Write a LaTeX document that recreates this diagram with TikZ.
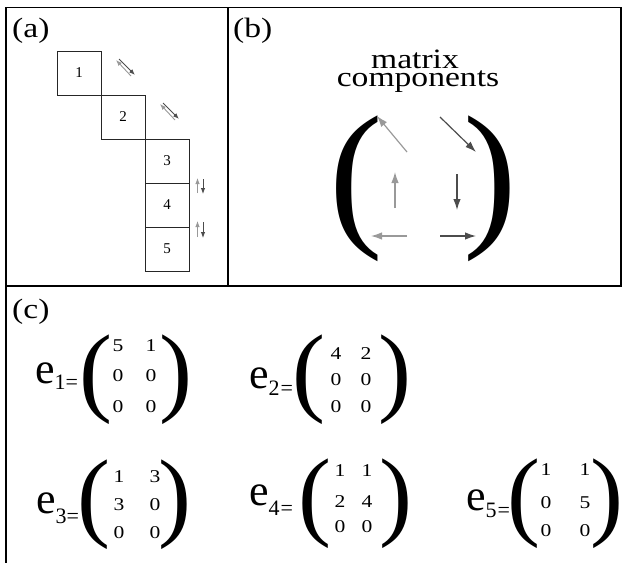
\documentclass[tikz,border=0pt]{standalone}
\usepackage{fontspec}
\setmainfont{Liberation Serif}
\usetikzlibrary{arrows.meta,positioning}

\newcommand\subf{\fontsize{22}{22}\selectfont}
\newcommand\elab[2]{e\lower#2pt\hbox{\subf #1=}}

\begin{document}
\begin{tikzpicture}[x=1pt,y=-1pt,
    panel/.style={font=\fontsize{28}{28}\selectfont, xscale=1.2, inner sep=0pt, anchor=base west},
    title/.style={font=\fontsize{28}{28}\selectfont, xscale=1.2, inner sep=0pt, anchor=base},
    cell/.style={draw=black!85, line width=0.8pt, minimum size=44pt, inner sep=0pt, outer sep=0pt,
                 font=\fontsize{15}{15}\selectfont},
    lite/.style={black!40, line width=0.9pt, -{Latex[length=6pt,width=4.5pt]}},
    dark/.style={black!70, line width=0.9pt, -{Latex[length=6pt,width=4.5pt]}},
    litebig/.style={black!40, line width=1.2pt, -{Latex[length=11pt,width=7.5pt]}},
    darkbig/.style={black!70, line width=1.2pt, -{Latex[length=11pt,width=7.5pt]}},
    bigparen/.style={font=\fontsize{161}{161}\selectfont, inner sep=0pt},
    paren/.style={font=\fontsize{99}{99}\selectfont, inner sep=0pt},
    entry/.style={font=\fontsize{18}{18}\selectfont, xscale=1.2, inner sep=0pt},
    elabel/.style={font=\fontsize{44}{44}\selectfont, inner sep=0pt, anchor=base west}]
    \useasboundingbox (0,0) rectangle (622,563);
    % frames of the three panels
    \draw[line width=1.2pt] (6,7.5) rectangle (228,286);
    \draw[line width=1.2pt] (228,7.5) rectangle (621,286);
    \draw[line width=1.2pt] (6,286) -- (6,563);
    \node[panel] (la) at (12,37) {(a)};
    \node[panel] (lb) at (233,37) {(b)};
    \node[panel] (lc) at (12,318) {(c)};

    % (a) staircase of cells
    \node[cell] (c1) at (79,73) {1};
    \node[cell, below right=0pt and 0pt of c1] (c2) {2};
    \node[cell, below right=0pt and 0pt of c2] (c3) {3};
    \node[cell, below=0pt of c3] (c4) {4};
    \node[cell, below=0pt of c4] (c5) {5};
    % arrow pairs between neighbouring cells
    \draw[lite] (131,76) -- (116,60);
    \draw[dark] (119,59) -- (135,75);
    \draw[lite] (175,120) -- (160,104);
    \draw[dark] (163,103) -- (179,119);
    \draw[lite] (197.5,193) -- (197.5,178);
    \draw[dark] (203,179) -- (203,194);
    \draw[lite] (197.5,237) -- (197.5,221);
    \draw[dark] (203,222) -- (203,238);

    % (b) matrix components
    \node[title] (t1) at (415,68) {matrix};
    \node[title] (t2) at (418,86) {components};
    \node[bigparen] (pl) at (356.5,188.5) {(};
    \node[bigparen] (pr) at (490.5,188.5) {)};
    \draw[litebig] (407,152) -- (377,116);
    \draw[darkbig] (440,117) -- (476,152);
    \draw[litebig] (395,208) -- (395,172);
    \draw[darkbig] (457,174) -- (457,210);
    \draw[litebig] (407,236) -- (371,236);
    \draw[darkbig] (440,236) -- (476,236);

    % (c) e1
    \node[elabel] (e1) at (35,383) {\elab{1}{6}};
    \node[paren] (e1l) at (95.5,380) {(};
    \node[paren] (e1r) at (176,380) {)};
    \node[entry] (e1-11) at (118,346) {5}; \node[entry] (e1-12) at (151,346) {1};
    \node[entry] (e1-21) at (118,376) {0}; \node[entry] (e1-22) at (151,376) {0};
    \node[entry] (e1-31) at (118,407) {0}; \node[entry] (e1-32) at (151,407) {0};
    % e2
    \node[elabel] (e2) at (249,388) {\elab{2\kern1pt}{7}};
    \node[paren] (e2l) at (309,379.5) {(};
    \node[paren] (e2r) at (395,379.5) {)};
    \node[entry] (e2-11) at (336,354) {4}; \node[entry] (e2-12) at (366,354) {2};
    \node[entry] (e2-21) at (336,380) {0}; \node[entry] (e2-22) at (366,380) {0};
    \node[entry] (e2-31) at (336,407) {0}; \node[entry] (e2-32) at (366,407) {0};
    % e3
    \node[elabel] (e3) at (36,513) {\elab{3}{10}};
    \node[paren] (e3l) at (93.5,505) {(};
    \node[paren] (e3r) at (175,505) {)};
    \node[entry] (e3-11) at (119,477) {1}; \node[entry] (e3-12) at (155,477) {3};
    \node[entry] (e3-21) at (119,505) {3}; \node[entry] (e3-22) at (155,505) {0};
    \node[entry] (e3-31) at (119,533) {0}; \node[entry] (e3-32) at (155,533) {0};
    % e4
    \node[elabel] (e4) at (249,505) {\elab{4\kern1pt}{10}};
    \node[paren] (e4l) at (315,504) {(};
    \node[paren] (e4r) at (395.5,504) {)};
    \node[entry] (e4-11) at (340,471) {1}; \node[entry] (e4-12) at (367,471) {1};
    \node[entry] (e4-21) at (340,502) {2}; \node[entry] (e4-22) at (367,502) {4};
    \node[entry] (e4-31) at (340,527) {0}; \node[entry] (e4-32) at (367,527) {0};
    % e5
    \node[elabel] (e5) at (466,510) {\elab{5\kern1pt}{7}};
    \node[paren] (e5l) at (523.5,504) {(};
    \node[paren] (e5r) at (606.5,504) {)};
    \node[entry] (e5-11) at (546,470) {1}; \node[entry] (e5-12) at (585,470) {1};
    \node[entry] (e5-21) at (546,503) {0}; \node[entry] (e5-22) at (585,503) {5};
    \node[entry] (e5-31) at (546,531) {0}; \node[entry] (e5-32) at (585,531) {0};
\end{tikzpicture}
\end{document}
